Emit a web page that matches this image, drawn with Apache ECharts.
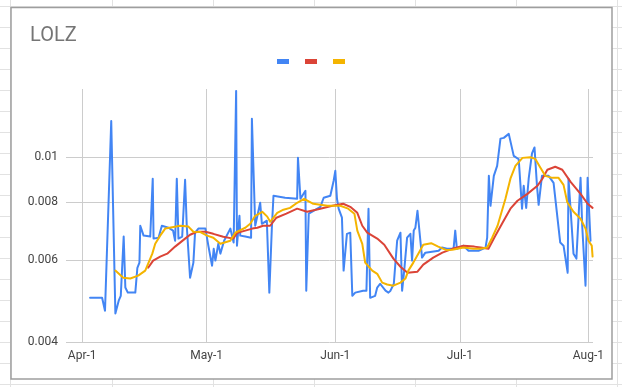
<!DOCTYPE html>
<html><head><meta charset="utf-8">
<script src="https://cdn.jsdelivr.net/npm/echarts@6/dist/echarts.min.js"></script>
<style>html,body{margin:0;padding:0;background:#fff}#c{width:622px;height:387px}</style>
</head><body><div id="c"></div>
<script>
// x values: days since Apr-1
const xTickDays = [0, 30, 61, 91, 122];
const xTickLabels = ['Apr-1', 'May-1', 'Jun-1', 'Jul-1', 'Aug-1'];
const yTickValues = [0.004, 0.006, 0.008, 0.01];
const yTickLabels = ['0.004', '0.006', '0.008', '0.01'];
const seriesNames = ['s1', 's2', 's3'];
const seriesColors = ['#4285F4', '#DB4437', '#F4B400'];

const blue = [[1.9,0.00498],[4.8,0.00498],[5.5,0.00467],[7.0,0.01197],[8.0,0.00461],[8.8,0.00491],[9.3,0.00503],[10.0,0.00675],[10.4,0.00524],[11.0,0.00511],[12.8,0.00511],[13.3,0.00578],[13.8,0.00593],[14.0,0.00712],[14.4,0.00719],[14.8,0.00678],[16.4,0.00675],[17.0,0.00899],[17.2,0.00668],[18.4,0.00671],[19.2,0.00712],[20.8,0.00705],[21.9,0.00695],[22.4,0.00661],[22.8,0.00899],[23.2,0.00668],[24.1,0.00675],[24.8,0.00894],[25.2,0.00712],[26.0,0.00550],[26.8,0.00593],[27.2,0.00688],[28.0,0.00702],[29.7,0.00702],[30.4,0.00645],[31.3,0.00584],[31.7,0.00635],[32.1,0.00599],[32.8,0.00651],[33.3,0.00620],[34.2,0.00661],[35.7,0.00702],[36.5,0.00655],[37.1,0.0139],[37.3,0.00645],[37.9,0.00748],[38.1,0.00678],[39.3,0.00675],[40.7,0.00671],[40.9,0.0121],[41.7,0.00712],[42.9,0.00798],[43.3,0.00719],[44.5,0.00730],[45.1,0.00511],[45.7,0.00702],[46.1,0.00826],[48.9,0.00818],[51.8,0.00814],[52.0,0.00997],[52.6,0.00814],[53.8,0.00847],[54.0,0.00516],[54.6,0.00756],[55.0,0.00759],[57.4,0.00782],[58.2,0.00818],[59.8,0.00826],[60.6,0.00890],[61.0,0.00935],[61.4,0.00814],[61.8,0.00775],[62.6,0.00741],[63.0,0.00570],[63.8,0.00684],[64.6,0.00688],[65.1,0.00503],[65.8,0.00511],[67.7,0.00516],[68.5,0.00516],[69.0,0.00775],[69.4,0.00498],[70.6,0.00503],[71.1,0.00524],[71.8,0.00534],[73.1,0.00516],[73.8,0.00511],[74.3,0.00516],[75.1,0.00534],[75.9,0.00661],[76.7,0.00688],[77.1,0.00516],[77.6,0.00570],[78.3,0.00671],[79.1,0.00684],[79.5,0.00599],[79.9,0.00695],[80.3,0.00705],[80.8,0.00767],[81.5,0.00661],[81.9,0.00608],[82.7,0.00623],[83.1,0.00629],[85.9,0.00629],[86.7,0.00639],[87.9,0.00635],[89.5,0.00635],[89.9,0.00695],[90.3,0.00635],[91.9,0.00645],[93.1,0.00629],[95.5,0.00629],[97.2,0.00639],[97.6,0.00671],[98.0,0.00912],[98.4,0.00786],[98.8,0.00786],[99.2,0.00912],[100.0,0.00958],[100.8,0.01097],[101.6,0.01101],[102.8,0.01123],[104.0,0.01007],[105.2,0.00990],[106.0,0.00775],[106.4,0.00868],[107.0,0.00778],[107.6,0.00899],[108.4,0.0102],[109.0,0.0105],[109.6,0.00868],[110.0,0.0079],[110.8,0.00912],[112.4,0.00912],[113.6,0.00881],[115.2,0.00655],[116.0,0.00645],[117.0,0.00564],[117.2,0.00899],[117.8,0.00748],[118.4,0.00620],[119.1,0.00605],[120.1,0.00903],[120.5,0.00712],[121.3,0.00529],[121.8,0.00903],[122.5,0.00661]];

const red = [[15.9,0.00578],[17.1,0.00599],[18.8,0.00611],[20.5,0.00620],[22.4,0.00642],[24.8,0.00668],[26.0,0.00681],[27.7,0.00691],[29.7,0.00691],[31.6,0.00684],[34.0,0.00674],[36.4,0.00668],[37.4,0.00688],[39.3,0.00695],[41.0,0.00702],[42.2,0.00705],[43.6,0.00712],[45.3,0.00712],[46.8,0.00741],[49.2,0.00756],[51.8,0.00775],[54.2,0.00763],[57.4,0.00775],[60.3,0.00786],[62.9,0.00794],[64.6,0.00782],[66.3,0.00759],[67.5,0.00712],[68.7,0.00688],[71.1,0.00668],[72.8,0.00648],[75.0,0.00605],[76.7,0.00581],[78.4,0.00564],[80.8,0.00567],[82.2,0.00587],[84.6,0.00608],[86.8,0.00623],[89.2,0.00635],[91.9,0.00645],[94.5,0.00642],[96.0,0.00639],[97.9,0.00635],[99.3,0.00671],[101.3,0.00723],[103.2,0.00775],[104.9,0.00806],[107.3,0.00834],[109.7,0.00868],[110.9,0.00899],[112.1,0.00940],[114.0,0.00954],[115.7,0.00940],[117.7,0.00885],[120.1,0.00834],[121.8,0.00794],[123.0,0.00778]];

const yellow = [[8.0,0.00570],[9.9,0.00550],[11.6,0.00548],[13.5,0.00556],[15.2,0.00570],[15.9,0.00590],[16.9,0.00620],[17.6,0.00651],[18.8,0.00678],[20.0,0.00702],[21.7,0.00707],[23.6,0.00712],[25.6,0.00709],[26.8,0.00691],[28.5,0.00690],[30.1,0.00678],[31.6,0.00671],[33.3,0.00651],[35.7,0.00661],[36.9,0.00688],[39.3,0.00705],[40.5,0.00719],[41.7,0.00748],[43.4,0.00763],[44.6,0.00745],[45.3,0.00726],[47.0,0.00759],[48.5,0.00771],[50.1,0.00778],[51.8,0.00798],[53.5,0.00814],[55.7,0.00794],[59.1,0.00786],[62.2,0.00786],[64.1,0.00775],[65.6,0.00756],[66.3,0.00695],[67.5,0.00651],[68.2,0.00593],[69.9,0.00570],[71.1,0.00561],[72.3,0.00537],[73.5,0.00532],[75.0,0.00529],[76.7,0.00537],[77.9,0.00548],[78.6,0.00570],[79.8,0.00593],[81.0,0.00620],[82.2,0.00648],[84.1,0.00653],[85.8,0.00642],[87.8,0.00631],[89.2,0.00632],[91.9,0.00639],[94.3,0.00635],[96.0,0.00635],[97.6,0.00639],[98.8,0.00671],[100.1,0.00712],[100.8,0.00748],[102.0,0.00814],[103.2,0.00899],[104.4,0.00958],[106.1,0.00997],[108.0,0.0100],[109.2,0.00992],[110.4,0.00951],[111.6,0.00912],[113.3,0.00903],[114.8,0.00903],[116.0,0.00872],[116.9,0.0080],[118.4,0.00763],[120.1,0.00737],[121.3,0.00702],[122.0,0.00661],[122.8,0.00645],[123.0,0.00611]];

const toXY = arr => arr.map(p => [p[0], Math.log10(p[1])]);
const yTickLog = yTickValues.map(v => Math.log10(v));
const yLabel = v => {
  let best = 0;
  yTickLog.forEach((t, i) => { if (Math.abs(t - v) < Math.abs(yTickLog[best] - v)) best = i; });
  return yTickLabels[best];
};
const xLabel = v => {
  let best = 0;
  xTickDays.forEach((t, i) => { if (Math.abs(t - v) < Math.abs(xTickDays[best] - v)) best = i; });
  return xTickLabels[best];
};

// spreadsheet background
const bg = [];
for (let k = 0; k < 19; k++) {
  const y = 6.5 + 21 * k;
  bg.push({type:'line', z:-100, shape:{x1:0,y1:y,x2:622,y2:y}, style:{stroke:'#e2e2e2', lineWidth:1}});
}
for (let k = -1; k < 6; k++) {
  const x = Math.round(111.5 + 101.1 * k) + 0.5;
  bg.push({type:'line', z:-100, shape:{x1:x,y1:0,x2:x,y2:387}, style:{stroke:'#e2e2e2', lineWidth:1}});
}
bg.push({type:'rect', z:-90, shape:{x:11, y:7.5, width:601, height:371.5}, style:{fill:'#fff', stroke:'#9e9e9e', lineWidth:1.5}});

const chart = echarts.init(document.getElementById('c'));
chart.setOption({
  animation: false,
  graphic: bg,
  title: {text:'LOLZ', left:30, top:26, padding:0, textStyle:{fontFamily:'Roboto', fontSize:20, fontWeight:'normal', color:'#757575'}},
  legend: {left:277, top:59, padding:0, icon:'rect', itemWidth:12, itemHeight:5, itemGap:16, formatter:() => '', textStyle:{fontSize:10}, data: seriesNames},
  grid: {left:66, right:29, top:89, bottom:45},
  xAxis: {
    type:'value', min:-3.9, max:123.1,
    axisLine:{show:false},
    axisTick:{show:false, customValues:xTickDays},
    axisLabel:{customValues:xTickDays, formatter:xLabel, color:'#444', fontSize:12, fontFamily:'Roboto', margin:8},
    splitLine:{show:true, lineStyle:{color:'#cccccc', width:1}}
  },
  yAxis: {
    type:'value', min:yTickLog[0], max:Math.log10(0.01403),
    axisLine:{show:false},
    axisTick:{show:false, customValues:yTickLog},
    axisLabel:{customValues:yTickLog, formatter:yLabel, color:'#444', fontSize:12, fontFamily:'Roboto', margin:8},
    splitLine:{show:true, lineStyle:{color:'#cccccc', width:1}}
  },
  series: [blue, red, yellow].map((d, i) => ({
    name: seriesNames[i], type:'line', data: toXY(d), showSymbol:false, symbol:'none',
    color: seriesColors[i],
    lineStyle:{color:seriesColors[i], width:2, join:'round', cap:'round'}
  }))
});
</script></body></html>
